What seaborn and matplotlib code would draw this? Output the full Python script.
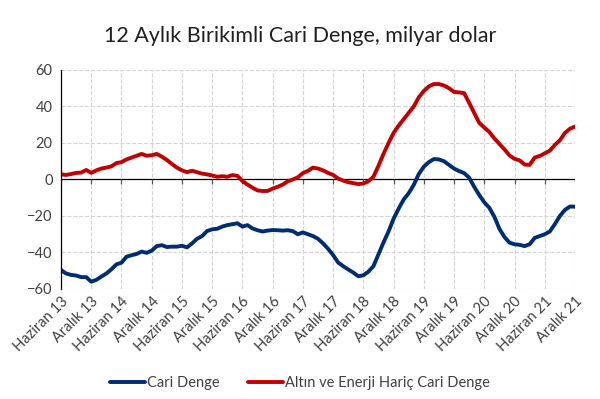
import pandas as pd
import matplotlib
matplotlib.use('Agg')
import matplotlib.pyplot as plt
import seaborn as sns

# tick labels (every 6 months, Haziran 13 .. Aralik 21)
tick_labels = ['Haziran 13', 'Aralık 13', 'Haziran 14', 'Aralık 14', 'Haziran 15', 'Aralık 15',
               'Haziran 16', 'Aralık 16', 'Haziran 17', 'Aralık 17', 'Haziran 18', 'Aralık 18',
               'Haziran 19', 'Aralık 19', 'Haziran 20', 'Aralık 20', 'Haziran 21', 'Aralık 21']

# monthly values, Jun 2013 - Dec 2021, billion USD
cari_denge = [-49.6, -51.5, -52.3, -52.6, -53.5, -53.5, -56, -55, -53.2, -51.5, -49.2, -46.5,
              -45.6, -42.3, -41.5, -40.8, -39.5, -40.2, -39, -36.5, -36, -37, -36.8, -36.8,
              -36.3, -37.2, -35, -32.5, -31, -28.2, -27.3, -27, -25.8, -25, -24.5, -24,
              -25.8, -25, -26.8, -27.8, -28.5, -28, -27.7, -27.8, -28, -27.8, -28.3, -30,
              -29, -30, -31, -32.5, -35, -38, -41.4, -45.5, -47.5, -49.3, -51, -53,
              -52.5, -50.5, -47.5, -41, -34.5, -28.5, -21.5, -16, -11, -7.5, -3, 3,
              7, 9.5, 11.2, 11, 10, 8, 6, 4.6, 3.5, 1, -4, -8.5,
              -12.5, -15.5, -20.4, -27, -31.5, -34.6, -35.5, -35.8, -36.5, -35.5, -32, -31,
              -30, -28.5, -24.5, -20, -16.7, -14.8, -14.9]

altin_enerji_haric = [2.8, 2.5, 3, 3.6, 3.8, 5.2, 3.6, 5, 6, 6.5, 7.2, 9,
                      9.5, 11, 12, 13, 14, 13, 13.3, 14, 12.5, 10.7, 8.5, 6.5,
                      5, 4, 4.8, 4, 3.2, 2.8, 2.2, 1.5, 1.8, 1.5, 2.4, 2,
                      -0.8, -2.8, -4.5, -6, -6.3, -6.3, -5, -4, -2.8, -1, 0, 1.2,
                      3.5, 4.7, 6.5, 6, 5, 3.6, 2.5, 0.5, -0.6, -1.5, -2, -2.5,
                      -2.2, -1, 1.5, 7.5, 14, 20, 25.5, 29.5, 33, 36.5, 40, 45,
                      48.5, 51, 52.3, 52.3, 51.5, 50, 48, 47.7, 47.3, 42, 36.5, 31,
                      28.5, 26, 22.5, 19.5, 16.5, 13.2, 11.3, 10.5, 8.2, 8, 12, 12.9,
                      14.3, 15.8, 18.9, 21.5, 25.5, 27.8, 29]

months = list(range(len(cari_denge)))
df = pd.DataFrame({'ay': months * 2,
                   'deger': cari_denge + altin_enerji_haric,
                   'seri': ['Cari Denge'] * len(months) + ['Altın ve Enerji Hariç Cari Denge'] * len(months)})

sns.set_style('white')
plt.rcParams['font.family'] = ['Lato', 'DejaVu Sans']

fig = plt.figure(figsize=(6, 3.99), dpi=100)
ax = fig.add_axes([0.1017, 0.2757, 0.8566, 0.5489])

sns.lineplot(data=df, x='ay', y='deger', hue='seri', ax=ax,
             palette={'Cari Denge': '#002D72', 'Altın ve Enerji Hariç Cari Denge': '#C00000'},
             linewidth=2.8, legend=True)

tick_pos = months[::6]
ax.set_xlim(0, months[-1])
ax.set_ylim(-60, 60)
ax.set_yticks(range(-60, 61, 20))
ax.set_xticks(tick_pos)
ax.set_xticklabels(tick_labels, rotation=45, ha='right', rotation_mode='anchor', fontsize=10.5, color='#404040')
ax.tick_params(axis='y', labelsize=10.5, labelcolor='#404040', length=0, pad=6)
ax.tick_params(axis='x', length=0, pad=4)
ax.set_xlabel('')
ax.set_ylabel('')

ax.grid(True, color='#d4d4d4', linestyle='--', linewidth=0.8)
ax.set_axisbelow(True)
for s in ['top', 'right', 'bottom']:
    ax.spines[s].set_visible(False)
ax.spines['left'].set_color('black')
ax.spines['left'].set_linewidth(0.9)

# zero line with its own tick marks
ax.axhline(0, color='black', linewidth=0.9, zorder=1.5)
ax.vlines(tick_pos, -2.3, 0, color='#555555', linewidth=0.9, zorder=1.5)

handles, labels = ax.get_legend_handles_labels()
leg = ax.legend(handles, labels, loc='center', bbox_to_anchor=(0.5, 0.04), bbox_transform=fig.transFigure,
                ncol=2, frameon=False, fontsize=10.5, handlelength=2.4, handletextpad=0.1, columnspacing=2.0)
for t in leg.get_texts():
    t.set_color('#404040')

fig.text(0.5, 0.91, '12 Aylık Birikimli Cari Denge, milyar dolar', ha='center', va='center',
         fontsize=15.5, color='#202020')

fig.savefig('out.png', dpi=100)
